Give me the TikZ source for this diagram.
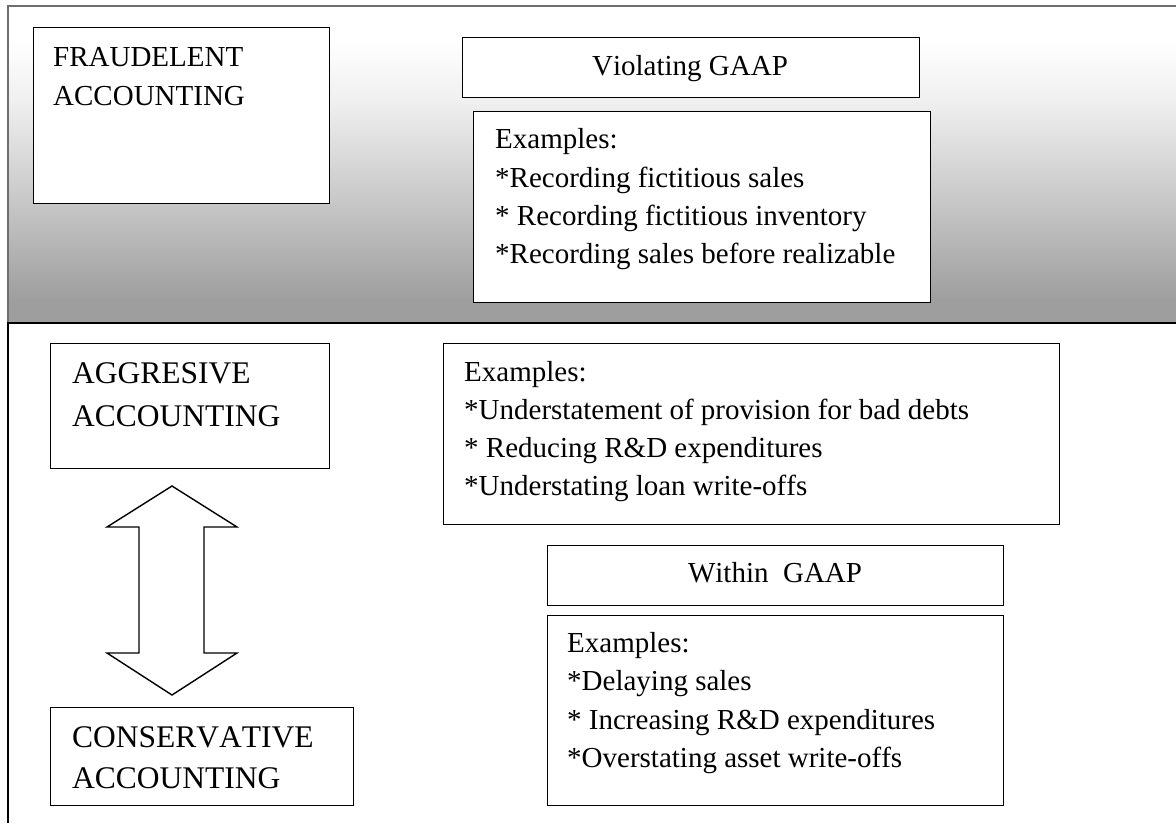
\documentclass[tikz,border=0pt]{standalone}
\usepackage{fontspec}
\setmainfont[Kerning=Off]{Liberation Serif}
\definecolor{pgray}{RGB}{158,158,158}
\definecolor{pmid}{RGB}{200,200,200}
\definecolor{plight}{RGB}{240,240,240}
\definecolor{bordergray}{RGB}{110,110,110}
\pgfdeclareverticalshading{panelshade}{100bp}{color(0bp)=(pgray); color(28.6bp)=(pgray); color(44.4bp)=(pmid); color(60.2bp)=(plight); color(69.6bp)=(white); color(100bp)=(white)}
\begin{document}
\begin{tikzpicture}[x=1pt,y=-1pt,
  box/.style={draw=black, line width=1.4pt, fill=white, anchor=north west, inner sep=0pt},
  txt/.style={anchor=base west, inner sep=0pt, font=\fontsize{29}{38}\selectfont},
  ctxt/.style={anchor=base, inner sep=0pt, font=\fontsize{29}{38}\selectfont},
  capt/.style={anchor=base west, inner sep=0pt, font=\fontsize{31.5}{40}\selectfont},
  bigarrow/.style={draw=black, line width=1.4pt, fill=white, line join=miter}]
\useasboundingbox (0,0) rectangle (1176,823);
% top panel (fraudulent accounting)
\shade[shading=panelshade] (8,6) rectangle (1176,323);
\draw[bordergray, line width=2pt] (8,323) -- (8,6) -- (1176,6);
\draw[black, line width=2pt] (7,323) -- (1176,323);
\draw[black, line width=1.6pt] (8,323) -- (8,823);
% boxes
\node[box, minimum width=296pt, minimum height=176pt] (fraud) at (33,27) {};
\node[box, minimum width=457pt, minimum height=60pt] (viol) at (462,37) {};
\node[box, minimum width=457pt, minimum height=191pt] (ex1) at (473,111) {};
\node[box, minimum width=279pt, minimum height=125pt] (aggr) at (50,343) {};
\node[box, minimum width=616pt, minimum height=181pt] (ex2) at (443,343) {};
\node[box, minimum width=456pt, minimum height=60pt] (within) at (547,545) {};
\node[box, minimum width=456pt, minimum height=190pt] (ex3) at (547,615) {};
\node[box, minimum width=303pt, minimum height=98pt] (cons) at (50,707) {};
% texts
\node[txt] (t1) at (53,66) {FRAUDELENT};
\node[txt] (t2) at (53,105) {ACCOUNTING};
\node[ctxt] (t3) at (690,75) {Violating GAAP};
\node[txt] (t4) at (495,148) {Examples:};
\node[txt] (t5) at (495,187) {*Recording fictitious sales};
\node[txt] (t6) at (495,225) {* Recording fictitious inventory};
\node[txt] (t7) at (495,263) {*Recording sales before realizable};
\node[capt] (t8) at (72,383) {AGGRESIVE};
\node[capt] (t9) at (72,426) {ACCOUNTING};
\node[txt] (t10) at (464,381) {Examples:};
\node[txt] (t11) at (464,419) {*Understatement of provision for bad debts};
\node[txt] (t12) at (464,457) {* Reducing R\&D expenditures};
\node[txt] (t13) at (464,495) {*Understating loan write-offs};
\node[ctxt] (t14) at (775,582) {Within\ \ GAAP};
\node[txt] (t15) at (567,652) {Examples:};
\node[txt] (t16) at (567,690) {*Delaying sales};
\node[txt] (t17) at (567,729) {* Increasing R\&D expenditures};
\node[txt] (t18) at (567,767) {*Overstating asset write-offs};
\node[capt] (t19) at (72,747) {CONSERVATIVE};
\node[capt] (t20) at (72,788) {ACCOUNTING};
% double block arrow between aggressive and conservative
\coordinate (atop) at (172,486);
\coordinate (abot) at (172,695);
\draw[bigarrow] (atop) -- ++(65,41) -- ++(-33,0) -- ++(0,126) -- ++(33,0) -- (abot)
  -- ++(-65,-42) -- ++(32,0) -- ++(0,-126) -- ++(-32,0) -- cycle;
\end{tikzpicture}
\end{document}
